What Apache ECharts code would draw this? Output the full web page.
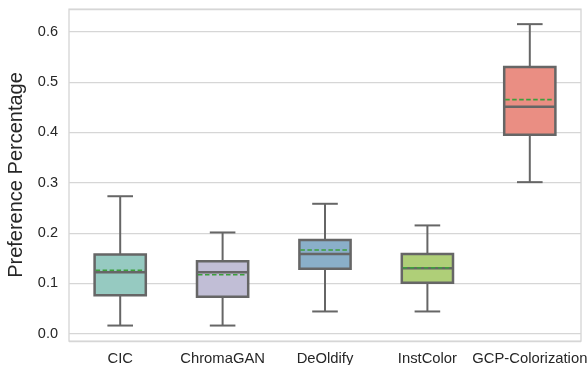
<!DOCTYPE html>
<html>
<head>
<meta charset="utf-8">
<script src="https://cdn.jsdelivr.net/npm/echarts@6/dist/echarts.min.js"></script>
<style>
html,body{margin:0;padding:0;background:#fff;}
#chart{width:588px;height:365px;}
</style>
</head>
<body>
<div id="chart"></div>
<script>
const categories = ['CIC', 'ChromaGAN', 'DeOldify', 'InstColor', 'GCP-Colorization'];
const whiskerLow = [0.016, 0.016, 0.044, 0.044, 0.301];
const q1Values = [0.076, 0.073, 0.129, 0.101, 0.395];
const medianValues = [0.122, 0.122, 0.158, 0.130, 0.451];
const q3Values = [0.157, 0.144, 0.186, 0.158, 0.530];
const whiskerHigh = [0.273, 0.201, 0.258, 0.215, 0.615];
const meanValues = [0.126, 0.117, 0.166, 0.131, 0.465];
const boxColors = ['#96cac1', '#c1bed6', '#8aafc9', '#afcf78', '#ea8e83'];

const lineColor = '#666666';
const meanColor = '#3ca03c';

const data = categories.map((c, i) => [i, whiskerLow[i], q1Values[i], medianValues[i], q3Values[i], whiskerHigh[i], meanValues[i]]);

function renderItem(params, api) {
  const i = api.value(0);
  const band = api.size([1, 0])[0];
  const bw = band * 0.5;
  const cw = bw * 0.5;
  const pMin = api.coord([i, api.value(1)]);
  const pQ1 = api.coord([i, api.value(2)]);
  const pMed = api.coord([i, api.value(3)]);
  const pQ3 = api.coord([i, api.value(4)]);
  const pMax = api.coord([i, api.value(5)]);
  const pMean = api.coord([i, api.value(6)]);
  const cx = pMed[0];
  const lw = 2;
  const st = {stroke: lineColor, lineWidth: lw, fill: null};
  return {
    type: 'group',
    children: [
      {type: 'line', shape: {x1: cx, y1: pQ1[1], x2: cx, y2: pMin[1]}, style: st},
      {type: 'line', shape: {x1: cx, y1: pQ3[1], x2: cx, y2: pMax[1]}, style: st},
      {type: 'line', shape: {x1: cx - cw / 2, y1: pMin[1], x2: cx + cw / 2, y2: pMin[1]}, style: st},
      {type: 'line', shape: {x1: cx - cw / 2, y1: pMax[1], x2: cx + cw / 2, y2: pMax[1]}, style: st},
      {type: 'rect', shape: {x: cx - bw / 2, y: pQ3[1], width: bw, height: pQ1[1] - pQ3[1]},
        style: {fill: boxColors[i], stroke: lineColor, lineWidth: 2.5}},
      {type: 'line', shape: {x1: cx - bw / 2, y1: pMed[1], x2: cx + bw / 2, y2: pMed[1]},
        style: {stroke: lineColor, lineWidth: 2.5}},
      {type: 'line', shape: {x1: cx - bw / 2 + 1, y1: pMean[1], x2: cx + bw / 2 - 1, y2: pMean[1]},
        style: {stroke: meanColor, lineWidth: 1.6, lineDash: [4.5, 2.5]}}
    ]
  };
}

const chart = echarts.init(document.getElementById('chart'), null, {renderer: 'canvas'});
chart.setOption({
  animation: false,
  backgroundColor: '#ffffff',
  grid: {left: 69, right: 7, top: 9, bottom: 24, show: true, borderColor: '#d2d2d2', borderWidth: 1.25, backgroundColor: 'transparent', containLabel: false, outerBoundsMode: 'none'},
  xAxis: {
    type: 'category',
    data: categories,
    axisLine: {show: false},
    axisTick: {show: false},
    splitLine: {show: false},
    axisLabel: {color: '#262626', fontSize: 14.8, fontFamily: 'Liberation Sans, Arial, sans-serif', margin: 10, interval: 0, hideOverlap: false}
  },
  yAxis: {
    type: 'value',
    min: -0.0147,
    max: 0.6451,
    splitNumber: 6,
    name: 'Preference Percentage',
    nameLocation: 'middle',
    nameGap: 40,
    nameTextStyle: {color: '#262626', fontSize: 20, fontFamily: 'Liberation Sans, Arial, sans-serif'},
    axisLine: {show: false},
    axisTick: {show: false},
    splitLine: {lineStyle: {color: '#d6d6d6', width: 1.25}},
    axisLabel: {
      color: '#262626', fontSize: 14.5, fontFamily: 'Liberation Sans, Arial, sans-serif', margin: 11,
      showMinLabel: false, showMaxLabel: false,
      formatter: function (v) {
        const r = Math.round(v * 10) / 10;
        if (Math.abs(r - v) > 1e-6) return '';
        return r.toFixed(1);
      }
    }
  },
  series: [{
    type: 'custom',
    renderItem: renderItem,
    encode: {x: 0, y: [1, 2, 3, 4, 5, 6]},
    data: data
  }]
});
</script>
</body>
</html>
